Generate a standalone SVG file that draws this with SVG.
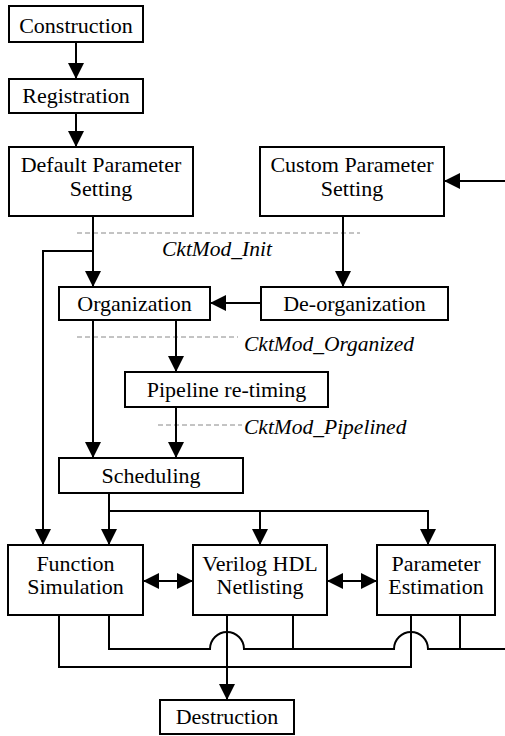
<svg xmlns="http://www.w3.org/2000/svg" width="505" height="736" viewBox="0 0 505 736">
<defs>
<marker id="ah" markerUnits="userSpaceOnUse" markerWidth="16" markerHeight="16" refX="16" refY="8" orient="auto-start-reverse" viewBox="0 0 16 16">
<path d="M0,0 L16,8 L0,16 z" fill="#000"/>
</marker>
<style>
.box{fill:#fff;stroke:#000;stroke-width:2}
.t{font-family:'Liberation Serif','Times New Roman',Times,serif;font-size:22px;text-anchor:middle;fill:#000}
.it{font-family:'Liberation Serif','Times New Roman',Times,serif;font-size:21.5px;font-style:italic;fill:#000}
.c{fill:none;stroke:#000;stroke-width:2}
.a{marker-end:url(#ah)}
.b{marker-start:url(#ah);marker-end:url(#ah)}
.tl{fill:none;stroke:#888;stroke-width:1;stroke-dasharray:5 3}
</style>
</defs>
<g id="state-lines">
<path class="tl" d="M77,233 H360"/>
<path class="tl" d="M77,337 H238"/>
<path class="tl" d="M158,425 H242"/>
<text class="it" x="162" y="256">CktMod_Init</text>
<text class="it" x="244" y="351">CktMod_Organized</text>
<text class="it" x="244" y="434">CktMod_Pipelined</text>
</g>
<g id="connectors">
<path class="c a" d="M76,42 V79"/>
<path class="c a" d="M76,113 V147"/>
<path class="c a" d="M505,181 H444"/>
<path class="c a" d="M93,216 V287"/>
<path class="c a" d="M93,251 H43 V545"/>
<path class="c a" d="M343,216 V287"/>
<path class="c a" d="M261,303 H210"/>
<path class="c a" d="M93,320 V458"/>
<path class="c a" d="M176,320 V372"/>
<path class="c a" d="M176,407 V458"/>
<path class="c a" d="M109,493 V545"/>
<path class="c a" d="M109,511 H428 V545"/>
<path class="c a" d="M260,511 V545"/>
<path class="c b" d="M143,581 H193"/>
<path class="c b" d="M327,581 H377"/>
<path class="c" d="M109,615 V649 H210 A17,17 0 0 1 244,649 H394 A17,17 0 0 1 428,649 H505"/>
<path class="c" d="M293,615 V649"/>
<path class="c" d="M460,615 V649"/>
<path class="c" d="M59,615 V667 H411 V615"/>
<path class="c a" d="M227,615 V700"/>
</g>
<g id="construction"><rect class="box" x="9" y="6" width="134" height="36"/><text class="t" x="76" y="32.5">Construction</text></g>
<g id="registration"><rect class="box" x="9" y="79" width="134" height="34"/><text class="t" x="76" y="103">Registration</text></g>
<g id="default-param"><rect class="box" x="9" y="147" width="184" height="69"/><text class="t" x="101" y="172">Default Parameter</text><text class="t" x="101" y="196">Setting</text></g>
<g id="custom-param"><rect class="box" x="260" y="147" width="184" height="69"/><text class="t" x="352" y="172">Custom Parameter</text><text class="t" x="352" y="196">Setting</text></g>
<g id="organization"><rect class="box" x="59" y="287" width="151" height="33"/><text class="t" x="134.5" y="311">Organization</text></g>
<g id="deorganization"><rect class="box" x="261" y="287" width="187" height="33"/><text class="t" x="354.5" y="311">De-organization</text></g>
<g id="pipeline"><rect class="box" x="125" y="372" width="203" height="35"/><text class="t" x="226.5" y="397">Pipeline re-timing</text></g>
<g id="scheduling"><rect class="box" x="59" y="458" width="184" height="35"/><text class="t" x="151" y="483">Scheduling</text></g>
<g id="function-sim"><rect class="box" x="8" y="545" width="135" height="70"/><text class="t" x="75.5" y="571">Function</text><text class="t" x="75.5" y="594">Simulation</text></g>
<g id="verilog"><rect class="box" x="193" y="545" width="134" height="70"/><text class="t" x="260" y="571">Verilog HDL</text><text class="t" x="260" y="594">Netlisting</text></g>
<g id="param-est"><rect class="box" x="377" y="545" width="118" height="70"/><text class="t" x="436" y="571">Parameter</text><text class="t" x="436" y="594">Estimation</text></g>
<g id="destruction"><rect class="box" x="160" y="700" width="134" height="34"/><text class="t" x="227" y="724">Destruction</text></g>
</svg>
